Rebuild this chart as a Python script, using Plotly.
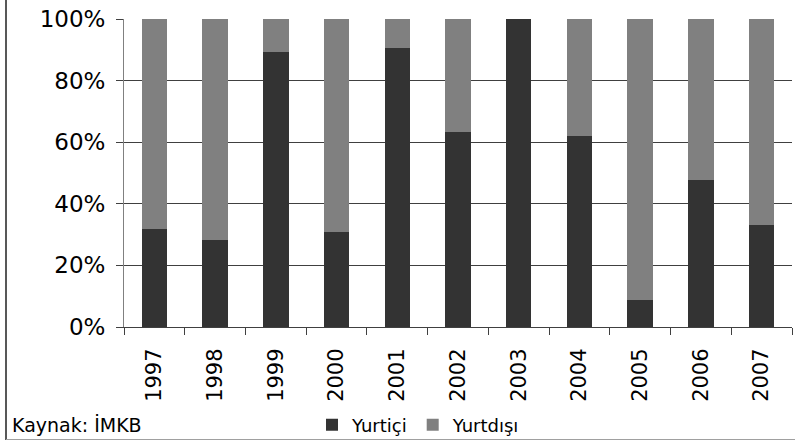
import plotly.graph_objects as go

# Data (share of Yurtiçi, rest is Yurtdışı)
years = ["1997", "1998", "1999", "2000", "2001", "2002",
         "2003", "2004", "2005", "2006", "2007"]
yurtici = [31.8, 28.2, 89.4, 30.8, 90.7, 63.3, 100.0, 62.0, 8.7, 47.7, 33.1]
yurtdisi = [round(100 - v, 1) for v in yurtici]
y_ticks = [0, 20, 40, 60, 80, 100]
y_labels = [f"{v}%" for v in y_ticks]

W, H = 795, 441
L, R, T, B = 124, 3, 19, 114
pw, ph = W - L - R, H - T - B


def px(x):
    return (x - L) / pw


def py(y):
    return (H - B - y) / ph


fig = go.Figure()
fig.add_trace(go.Bar(x=years, y=yurtici, name="Yurtiçi",
                     marker=dict(color="#333333", line=dict(width=0))))
fig.add_trace(go.Bar(x=years, y=yurtdisi, name="Yurtdışı",
                     marker=dict(color="#808080", line=dict(width=0))))

fig.update_layout(
    barmode="stack",
    bargap=0.58,
    width=W, height=H,
    margin=dict(l=L, r=R, t=T, b=B, pad=0, autoexpand=False),
    plot_bgcolor="white",
    paper_bgcolor="white",
    font=dict(family="DejaVu Sans, Verdana, sans-serif", size=20, color="black"),
    legend=dict(orientation="h", x=px(312), y=py(425), xanchor="left",
                yanchor="middle", font=dict(size=18), itemwidth=30,
                traceorder="normal", bgcolor="rgba(0,0,0,0)"),
)

fig.update_yaxes(range=[0, 100], tickmode="array", tickvals=y_ticks,
                 ticktext=y_labels, automargin=False,
                 showgrid=True, gridcolor="#404040", gridwidth=1,
                 showline=True, linecolor="#808080", linewidth=1,
                 ticks="outside", ticklen=7, tickcolor="#404040",
                 ticklabelstandoff=6,
                 zeroline=False, tickfont=dict(size=23))
fig.update_xaxes(type="category", tickangle=-90, tickson="boundaries",
                 automargin=False,
                 ticks="outside", ticklen=7, tickcolor="#404040",
                 showline=True, linecolor="#404040", linewidth=1,
                 ticklabelstandoff=12,
                 tickfont=dict(size=21), showgrid=False)

# outer frame (left and bottom edges visible)
fig.add_shape(type="line", xref="paper", yref="paper",
              x0=px(6), x1=px(6), y0=py(0), y1=py(440),
              line=dict(color="#202020", width=1.5))
fig.add_shape(type="line", xref="paper", yref="paper",
              x0=px(6), x1=px(W), y0=py(439.5), y1=py(439.5),
              line=dict(color="#a0a0a0", width=1))

fig.add_annotation(text="Kaynak: İMKB", xref="paper", yref="paper",
                   x=px(10), y=py(425), xanchor="left", yanchor="middle",
                   showarrow=False, font=dict(size=19))

fig.write_html("out.html", config={"displayModeBar": False},
               post_script="document.body.style.margin='0px';")
